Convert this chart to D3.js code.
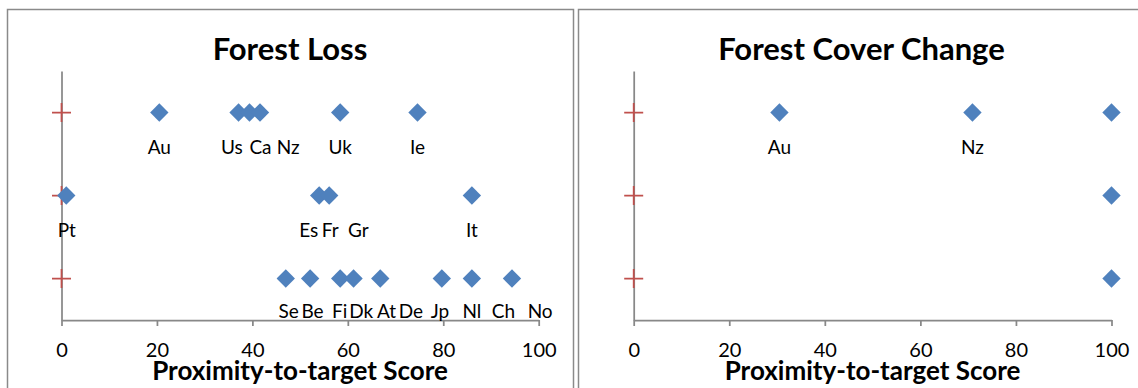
<!DOCTYPE html>
<html>
<head>
<meta charset="utf-8">
<script src="https://cdn.jsdelivr.net/npm/d3@7"></script>
<style>
  html, body { margin: 0; padding: 0; background: #fff; }
  svg { display: block; }
  text { font-family: Lato, "Open Sans", sans-serif; fill: #000; font-variant-ligatures: none; }
</style>
</head>
<body>
<svg id="chart" width="1138" height="388"></svg>
<script>
// ---- data ----------------------------------------------------------------
const xTicks = [0, 20, 40, 60, 80, 100];
const rows = [3, 2, 1];                 // three indicator rows, top to bottom
const targetScore = 0;                   // red "+" reference marker per row

// Forest Loss: diamond scores per row
const lossRow1Scores = [20.5, 37.1, 39.4, 41.6, 58.4, 74.6];
const lossRow2Scores = [1.0, 54.0, 56.1, 86.0];
const lossRow3Scores = [47.0, 52.1, 58.4, 61.2, 66.8, 79.7, 86.0, 94.4];

// Forest Loss: country codes and where each label sits on the score axis
const lossRow1Codes = ["Au", "Us", "Ca", "Nz", "Uk", "Ie"];
const lossRow1LabelAt = [20.5, 35.7, 41.7, 47.5, 58.4, 74.6];
const lossRow2Codes = ["Pt", "Es", "Fr", "Gr", "It"];
const lossRow2LabelAt = [1.1, 51.8, 56.3, 62.2, 86.0];
const lossRow3Codes = ["Se", "Be", "Fi", "Dk", "At", "De", "Jp", "Nl", "Ch", "No"];
const lossRow3LabelAt = [47.6, 52.6, 58.3, 62.8, 68.1, 73.2, 79.3, 86.0, 92.6, 100.3];

// Forest Cover Change
const coverRow1Scores = [30.5, 70.9, 100];
const coverRow2Scores = [100];
const coverRow3Scores = [100];
const coverRow1Codes = ["Au", "Nz"];
const coverRow1LabelAt = [30.5, 70.9];

const panels = [
  {
    title: "Forest Loss",
    frameX: 7.5, frameW: 566, titleX: 290,
    plotX0: 61.5, plotX1: 538.7,
    scores: [lossRow1Scores, lossRow2Scores, lossRow3Scores],
    labels: [
      { codes: lossRow1Codes, at: lossRow1LabelAt, dy: 41.5 },
      { codes: lossRow2Codes, at: lossRow2LabelAt, dy: 41.5 },
      { codes: lossRow3Codes, at: lossRow3LabelAt, dy: 39 }
    ]
  },
  {
    title: "Forest Cover Change",
    frameX: 578.5, frameW: 580, titleX: 861.5,
    plotX0: 633.7, plotX1: 1111.5,
    scores: [coverRow1Scores, coverRow2Scores, coverRow3Scores],
    labels: [
      { codes: coverRow1Codes, at: coverRow1LabelAt, dy: 41.5 }
    ]
  }
];

// ---- drawing -------------------------------------------------------------
const svg = d3.select("#chart");
const axisColor = "#888888";
const plotTop = 71, plotBottom = 320;

const y = d3.scaleLinear().domain([0.5, 3.5]).range([plotBottom, plotTop]);
const diamond = d3.symbol().type(d3.symbolDiamond2).size(215);

panels.forEach(p => {
  const g = svg.append("g");
  const x = d3.scaleLinear().domain([0, 100]).range([p.plotX0, p.plotX1]);

  // chart-area frame (open at the bottom edge of the view)
  g.append("path")
    .attr("d", `M${p.frameX},400 V9.5 H${p.frameX + p.frameW} V400`)
    .attr("fill", "none")
    .attr("stroke", "#8a8a8a")
    .attr("stroke-width", 1.5);

  // title
  g.append("text")
    .attr("x", p.titleX).attr("y", 60)
    .attr("text-anchor", "middle")
    .style("font-weight", "bold")
    .style("font-size", "31px")
    .text(p.title);

  // x axis
  const xAxis = d3.axisBottom(x).tickValues(xTicks).tickSize(6).tickSizeOuter(0);
  const xg = g.append("g").attr("transform", `translate(0,${plotBottom})`).call(xAxis);
  xg.select(".domain").attr("stroke", axisColor).attr("stroke-width", 1.75);
  xg.selectAll(".tick line").attr("stroke", axisColor).attr("stroke-width", 1.75);
  xg.selectAll(".tick text")
    .attr("y", 37).attr("dy", 0)
    .style("font-size", "20px")
    .style("font-family", "Lato, sans-serif")
    .attr("fill", "#000");

  // y axis (no ticks)
  const yAxis = d3.axisLeft(y).tickValues([]).tickSizeOuter(0);
  const yg = g.append("g").attr("transform", `translate(${x(0)},0)`).call(yAxis);
  yg.select(".domain").attr("stroke", axisColor).attr("stroke-width", 1.75);

  // x axis title
  g.append("text")
    .attr("x", (p.plotX0 + p.plotX1) / 2).attr("y", 380)
    .attr("text-anchor", "middle")
    .style("font-weight", "bold")
    .style("font-size", "26px")
    .text("Proximity-to-target Score");

  // red target markers
  g.selectAll("path.target").data(rows).enter().append("path")
    .attr("class", "target")
    .attr("d", r => `M${x(targetScore) - 9.5},${y(r)}h19M${x(targetScore)},${y(r) - 9.5}v19`)
    .attr("stroke", "#c0504d")
    .attr("stroke-width", 1.75)
    .attr("fill", "none");

  // diamonds
  p.scores.forEach((vals, i) => {
    g.selectAll(null).data(vals).enter().append("path")
      .attr("d", diamond)
      .attr("transform", v => `translate(${x(v)},${y(rows[i])})`)
      .attr("fill", "#4f81bd");
  });

  // country labels
  p.labels.forEach((lab, i) => {
    g.selectAll(null).data(lab.codes).enter().append("text")
      .attr("x", (d, j) => x(lab.at[j]))
      .attr("y", y(rows[i]) + lab.dy)
      .attr("text-anchor", "middle")
      .style("font-size", "19px")
      .text(d => d);
  });
});
</script>
</body>
</html>
